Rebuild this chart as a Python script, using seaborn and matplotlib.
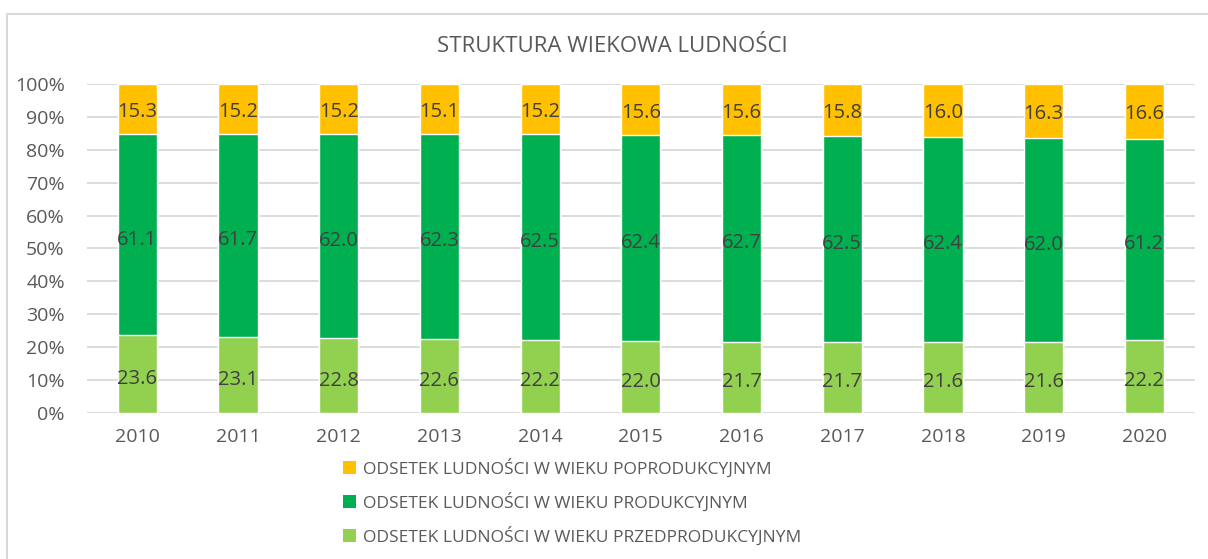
import numpy as np
import pandas as pd
import seaborn as sns
import matplotlib.pyplot as plt
from matplotlib.patches import Rectangle, Patch

# data
years = ["2010", "2011", "2012", "2013", "2014", "2015", "2016", "2017", "2018", "2019", "2020"]
pre_prod = [23.6, 23.1, 22.8, 22.6, 22.2, 22.0, 21.7, 21.7, 21.6, 21.6, 22.2]
prod = [61.1, 61.7, 62.0, 62.3, 62.5, 62.4, 62.7, 62.5, 62.4, 62.0, 61.2]
post_prod = [15.3, 15.2, 15.2, 15.1, 15.2, 15.6, 15.6, 15.8, 16.0, 16.3, 16.6]

labels = ["ODSETEK LUDNOŚCI W WIEKU POPRODUKCYJNYM",
          "ODSETEK LUDNOŚCI W WIEKU PRODUKCYJNYM",
          "ODSETEK LUDNOŚCI W WIEKU PRZEDPRODUKCYJNYM"]
colors = ["#FFC000", "#00B050", "#92D050"]

df = pd.DataFrame({"year": years, "pre": pre_prod, "prod": prod, "post": post_prod})
total = df["pre"] + df["prod"] + df["post"]
# 100% stacked: normalise each year
df["pre_pct"] = df["pre"] / total * 100
df["prod_pct"] = df["prod"] / total * 100
df["post_pct"] = df["post"] / total * 100
df["top"] = df["pre_pct"] + df["prod_pct"] + df["post_pct"]
df["mid"] = df["pre_pct"] + df["prod_pct"]

sns.set_theme(style="white")
plt.rcParams["font.family"] = ["Open Sans", "DejaVu Sans"]

fig = plt.figure(figsize=(12.08, 5.59), dpi=100)
ax = fig.add_axes([0.072, 0.261, 0.917, 0.589])

width = 0.39
sns.barplot(data=df, x="year", y="top", color=colors[0], width=width, saturation=1, ax=ax, zorder=2)
sns.barplot(data=df, x="year", y="mid", color=colors[1], width=width, saturation=1, ax=ax, zorder=2)
sns.barplot(data=df, x="year", y="pre_pct", color=colors[2], width=width, saturation=1, ax=ax, zorder=2)

# value labels
txt_kw = dict(ha="center", va="center", fontsize=14.5, color="#404040", zorder=3)
for i, row in df.iterrows():
    ax.text(i, row["pre_pct"] / 2 - 1.5, f"{row['pre']:.1f}", **txt_kw)
    ax.text(i, row["pre_pct"] + row["prod_pct"] / 2 - 1.5, f"{row['prod']:.1f}", **txt_kw)
    ax.text(i, row["mid"] + row["post_pct"] / 2 - 1, f"{row['post']:.1f}", **txt_kw)

ax.set_ylim(0, 100)
ax.set_xlim(-0.5, len(years) - 0.5)
ax.set_yticks(range(0, 101, 10))
ax.set_yticklabels([f"{v}%" for v in range(0, 101, 10)])
ax.yaxis.grid(True, color="#D9D9D9", linewidth=1.3, zorder=0)
ax.set_axisbelow(True)
ax.set_xlabel("")
ax.set_ylabel("")
for s in ax.spines.values():
    s.set_visible(False)
ax.tick_params(axis="y", labelsize=14, labelcolor="#595959", length=0, pad=16)
ax.tick_params(axis="x", labelsize=14, labelcolor="#595959", length=0, pad=11)

fig.text(0.507, 0.917, "STRUKTURA WIEKOWA LUDNOŚCI", ha="center", va="center",
         fontsize=16, color="#595959")

handles = [Patch(facecolor=c, edgecolor="none") for c in colors]
fig.legend(handles, labels, loc="upper left", bbox_to_anchor=(0.284, 0.18),
           frameon=False, fontsize=12.5, labelcolor="#595959",
           handlelength=0.75, handleheight=0.75, handletextpad=0.4, labelspacing=0.85,
           borderaxespad=0, borderpad=0)

# outer chart frame
fig.patches.append(Rectangle((7 / 1208, -0.1), 1.2, 1 - 14 / 559 + 0.1,
                             transform=fig.transFigure, fill=False,
                             edgecolor="#D9D9D9", linewidth=1.5, zorder=0))

fig.savefig("out.png", dpi=100)
